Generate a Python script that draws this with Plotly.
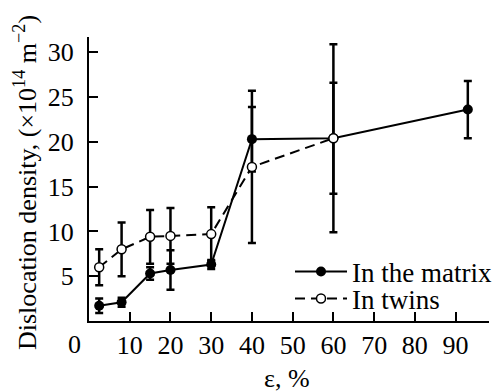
import plotly.graph_objects as go

# Data
eps_matrix = [2.5, 8, 15, 20, 30, 40, 60, 93]
rho_matrix = [1.7, 2.1, 5.3, 5.7, 6.3, 20.3, 20.4, 23.6]
err_matrix = [0.8, 0.5, 0.7, 2.2, 0.5, 3.6, 6.2, 3.2]

eps_twins = [2.5, 8, 15, 20, 30, 40, 60]
rho_twins = [6.0, 8.0, 9.4, 9.5, 9.7, 17.2, 20.4]
err_twins = [2.0, 3.0, 3.0, 3.1, 3.0, 8.5, 10.5]

x_ticks = [10, 20, 30, 40, 50, 60, 70, 80, 90]
y_ticks = [5, 10, 15, 20, 25, 30]

FONT = "Liberation Serif, Times New Roman, Times, serif"
W, H = 497, 392
L, R, T, B = 89, 8, 37, 71
pw, ph = W - L - R, H - T - B

fig = go.Figure()
fig.add_trace(go.Scatter(
    x=eps_matrix, y=rho_matrix, name="In the matrix", legend="legend",
    mode="lines+markers",
    line=dict(color="black", width=2),
    marker=dict(color="black", size=10, line=dict(color="black", width=0)),
    error_y=dict(type="data", array=err_matrix, color="black", thickness=2.5, width=4),
))
fig.add_trace(go.Scatter(
    x=eps_twins, y=rho_twins, name="In twins", legend="legend2",
    mode="lines+markers",
    line=dict(color="black", width=2, dash="10px,6px"),
    marker=dict(color="white", size=9, line=dict(color="black", width=1.5)),
    error_y=dict(type="data", array=err_twins, color="black", thickness=2.5, width=4),
))

def px2paper(xp, yp):
    return (xp - L) / pw, (H - B - yp) / ph

lx, ly1 = px2paper(290, 272)
_, ly2 = px2paper(290, 299)
legend_common = dict(xanchor="left", yanchor="middle", bgcolor="rgba(0,0,0,0)",
                     font=dict(family=FONT, size=27, color="black"),
                     itemwidth=52, borderwidth=0, tracegroupgap=0)

fig.update_layout(
    width=W, height=H,
    margin=dict(l=L, r=R, t=T, b=B, pad=0, autoexpand=False),
    paper_bgcolor="white", plot_bgcolor="white",
    font=dict(family=FONT, size=26, color="black"),
    showlegend=True,
    legend=dict(x=lx, y=ly1, **legend_common),
    legend2=dict(x=lx, y=ly2, **legend_common),
    xaxis=dict(range=[0, 98.2], showline=True, linecolor="black", linewidth=2,
               ticks="inside", ticklen=9, tickwidth=2, tickcolor="black",
               tickvals=x_ticks, ticktext=[str(v) for v in x_ticks],
               showgrid=False, zeroline=False, ticklabelstandoff=0,
               tickfont=dict(family=FONT, size=26, color="black")),
    yaxis=dict(range=[0, 31.7], showline=True, linecolor="black", linewidth=2,
               ticks="inside", ticklen=9, tickwidth=2, tickcolor="black",
               tickvals=y_ticks, ticktext=[str(v) for v in y_ticks],
               showgrid=False, zeroline=False, ticklabelstandoff=8,
               tickfont=dict(family=FONT, size=26, color="black")),
)

tx, ty = px2paper(25, 183)
xx, xy = px2paper(287, 378)
zx, zy = px2paper(74, 345)
fig.add_annotation(x=tx, y=ty, xref="paper", yref="paper", textangle=-90,
                   text="Dislocation density, (×10<sup>14</sup> m<sup>−2</sup>)",
                   showarrow=False, xanchor="center", yanchor="middle",
                   font=dict(family=FONT, size=26, color="black"))
fig.add_annotation(x=xx, y=xy, xref="paper", yref="paper", text="ε, %",
                   showarrow=False, xanchor="center", yanchor="middle",
                   font=dict(family=FONT, size=26, color="black"))
fig.add_annotation(x=zx, y=zy, xref="paper", yref="paper", text="0",
                   showarrow=False, xanchor="center", yanchor="middle",
                   font=dict(family=FONT, size=26, color="black"))

fig.write_html("out.html")
